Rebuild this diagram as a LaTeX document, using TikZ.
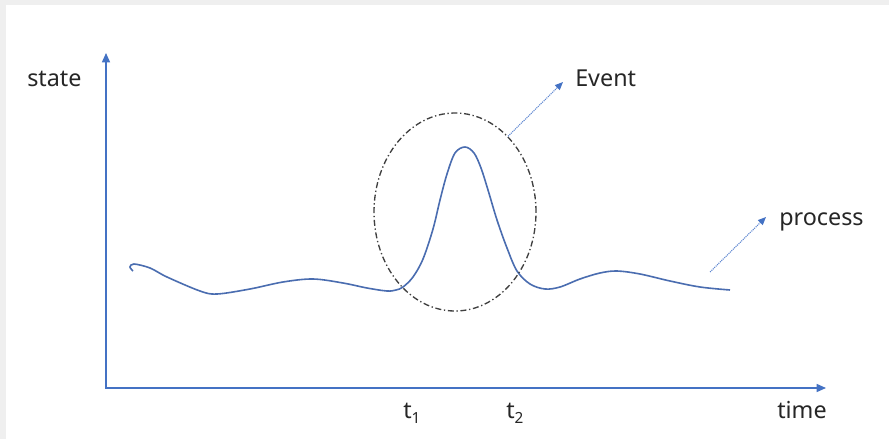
\documentclass[tikz,border=0pt]{standalone}
\usepackage{fontspec}
\setmainfont{Noto Sans}
\usetikzlibrary{arrows.meta,shapes.geometric}
\definecolor{axisblue}{HTML}{4472C4}
\definecolor{curveblue}{HTML}{4A6DB0}
\definecolor{ptrblue}{HTML}{5B85D0}
\definecolor{txt}{HTML}{262626}
\definecolor{frame}{HTML}{EFEFEF}
\definecolor{ellgray}{HTML}{404040}
\tikzset{
  lbl/.style={anchor=base west, inner sep=0pt, text=txt, font=\fontsize{17.5}{20}\selectfont},
  axisline/.style={draw=axisblue, line width=1.1pt, {Triangle[length=7pt,width=6pt]}-{Triangle[length=7pt,width=6pt]}},
  curveline/.style={draw=curveblue, line width=1.2pt},
  eventring/.style={draw=ellgray, ellipse, line width=1pt, inner sep=0pt,
    minimum width=121.5pt, minimum height=148.5pt,
    dash pattern=on 4.5pt off 2pt on 1pt off 2pt},
  pointer/.style={draw=ptrblue, line width=0.8pt, dash pattern=on 0.8pt off 0.7pt,
    -{Triangle[length=6pt,width=5pt,color=axisblue]}}
}
\newcommand{\subidx}[1]{\raisebox{-4.2pt}{\fontsize{11.5}{12}\selectfont #1}}
\begin{document}
\begin{tikzpicture}[x=0.75pt,y=-0.75pt]
\useasboundingbox (0,0) rectangle (889,439);
\fill[frame] (0,0) rectangle (889,439);
\fill[white] (6,5) rectangle (889,439);
% axes
\coordinate (o) at (106,388);
\coordinate (ytip) at (106,53);
\coordinate (xtip) at (826,388);
\draw[axisline] (ytip) -- (o) -- (xtip);
% labels
\node[lbl] (state) at (27,86) {state};
\node[lbl] (time) at (777,418) {time};
\node[lbl] (t1) at (403,418) {t\subidx{1}};
\node[lbl] (t2) at (506,418) {t\subidx{2}};
\node[lbl] (event) at (575,86) {Event};
\node[lbl] (process) at (779,225) {process};
% curve
\draw[curveline] plot[smooth, tension=0.55] coordinates {
  (133,271) (130,267) (134,264) (150,268) (167,277) (200,291) (217,294)
  (250,289) (283,282) (313,279) (343,283) (367,288) (387,291) (396,290)
  (403,287) (413,277) (423,259) (433,229) (440,200) (447,174) (455,153)
  (465,147) (474,153) (481,168) (488,190) (497,220) (507,248) (517,271)
  (530,284) (545,289) (560,287) (580,279) (600,273) (617,271) (640,274)
  (670,281) (700,287) (730,290)};
% event ellipse
\node[eventring] (ev) at (455,212) {};
% pointers
\coordinate (evtip) at (563,82);
\draw[pointer] (ev.55) -- (evtip);
\coordinate (prs) at (710,272);
\coordinate (prt) at (766,217);
\draw[pointer] (prs) -- (prt);
\end{tikzpicture}
\end{document}
